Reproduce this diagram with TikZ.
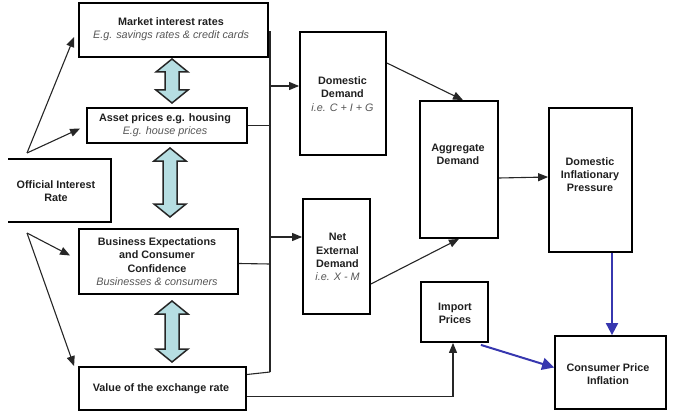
\documentclass[tikz,border=0pt]{standalone}
\usepackage{fontspec}
\setmainfont{Liberation Sans}
\usetikzlibrary{arrows.meta}
\definecolor{dblfill}{RGB}{182,222,226}
\definecolor{arrblue}{RGB}{55,55,175}
\definecolor{subgray}{RGB}{85,85,85}
\newcommand\dblarrowv[3]{\draw[dblarr] (#1,#2) -- ++(16,13) -- ++(-9,0) -- (#1+7,#3-13) -- ++(9,0) -- (#1,#3) -- ++(-16,-13) -- ++(9,0) -- (#1-7,#2+13) -- ++(-9,0) -- cycle;}
\newcommand\subtxt[1]{\textcolor{subgray}{\mdseries\itshape #1}}
\begin{document}
\begin{tikzpicture}[x=1pt,y=-1pt,
  box/.style={draw, line width=1.8pt, inner sep=0pt},
  lbl/.style={align=center, font=\fontsize{10.8}{13.3}\selectfont\bfseries, text=black!88, inner sep=0pt},
  conn/.style={line width=1.1pt, draw=black!85},
  arr/.style={conn, -{Triangle[length=10pt,width=8pt]}},
  barr/.style={line width=2pt, draw=arrblue, -{Triangle[length=12pt,width=12pt]}},
  dblarr/.style={draw=black!85, line width=1.5pt, fill=dblfill, line join=miter}]
\useasboundingbox (0,0) rectangle (677,417);

% boxes
\node[box, minimum width=189pt, minimum height=54pt] (mkt) at (173.5,30) {};
\node[box, minimum width=160pt, minimum height=35pt] (asset) at (167,125.5) {};
\begin{scope}
\clip (8,150) rectangle (120,232);
\node[box, minimum width=121pt, minimum height=63pt] (off) at (50.5,190.5) {};
\end{scope}
\node[box, minimum width=159pt, minimum height=65pt] (bus) at (158.5,261.5) {};
\node[box, minimum width=167pt, minimum height=43pt] (val) at (162.5,388.5) {};
\node[box, minimum width=86pt, minimum height=123pt] (dd) at (343,93.5) {};
\node[box, minimum width=67pt, minimum height=115pt] (ned) at (336.5,256.5) {};
\node[box, minimum width=78pt, minimum height=137pt] (agg) at (459,169.5) {};
\node[box, minimum width=83pt, minimum height=144pt] (dip) at (590.5,180) {};
\node[box, minimum width=67pt, minimum height=60pt] (imp) at (454.5,312) {};
\node[box, minimum width=111pt, minimum height=73pt] (cpi) at (610.5,372.5) {};

% texts
\node[lbl] (mkt-t) at (171,29.5) {Market interest rates\\\subtxt{E.g. savings rates \& credit cards}};
\node[lbl] (asset-t) at (165,125.5) {Asset prices e.g. housing\\\subtxt{E.g. house prices}};
\node[lbl] (off-t) at (56,191) {Official Interest\\Rate};
\node[lbl] (bus-t) at (157,261.5) {Business Expectations\\and Consumer\\Confidence\\\subtxt{Businesses \& consumers}};
\node[lbl] (val-t) at (161,388.5) {Value of the exchange rate};
\node[lbl] (dd-t) at (342.5,94) {Domestic\\Demand\\\subtxt{i.e. C + I + G}};
\node[lbl] (ned-t) at (337.5,257) {Net\\External\\Demand\\\subtxt{i.e. X - M}};
\node[lbl] (agg-t) at (458,154) {Aggregate\\Demand};
\node[lbl] (dip-t) at (590,174.5) {Domestic\\Inflationary\\Pressure};
\node[lbl] (imp-t) at (455,313.5) {Import\\Prices};
\node[lbl] (cpi-t) at (608,374) {Consumer Price\\Inflation};

% double arrows
\dblarrowv{172}{59}{103}
\dblarrowv{170}{148}{217}
\dblarrowv{172}{301}{362}

% official rate arrows
\coordinate (o1) at (27,153);
\coordinate (o2) at (27,233);
\draw[arr] (o1) -- ([shift={(-4,7)}]mkt.west);
\draw[arr] (o1) -- ([shift={(-6,3)}]asset.west);
\draw[arr] (o2) -- ([shift={(-8,-6)}]bus.west);
\draw[arr] (o2) -- ([shift={(-4,0)}]val.north west);

% collector bus
\coordinate (bt) at (270,32);
\coordinate (bb) at (270,372);
\draw[conn] ([yshift=-2pt]mkt.east) -- (bt) -- (bb);
\draw[conn] (asset.east) -- (asset.east -| bt);
\draw[conn] ([yshift=-2pt]bus.east) -- (270,264);
\draw[conn] ([yshift=14pt]val.east) -- (bb);
\coordinate (t1) at (270,86);
\coordinate (t2) at (270,237);
\draw[arr] (t1) -- (t1 -| dd.west);
\draw[arr] (t2) -- (t2 -| ned.west);

% demand flows
\draw[arr] ([yshift=30.5pt]dd.east) -- ([xshift=4pt]agg.north);
\draw[arr] ([yshift=-27.5pt]ned.east) -- (agg.south);
\draw[arr] ([yshift=-8.5pt]agg.east) -- ([yshift=3pt]dip.west);
\draw[arr] ([yshift=-8pt]val.east) -| ([xshift=-1.5pt]imp.south);

% blue arrows
\draw[barr] ([xshift=21.5pt]dip.south) -- ([xshift=1.5pt]cpi.north);
\draw[barr] ([xshift=-8pt,yshift=-2pt]imp.south east) -- ([yshift=5pt]cpi.west);
\end{tikzpicture}
\end{document}
